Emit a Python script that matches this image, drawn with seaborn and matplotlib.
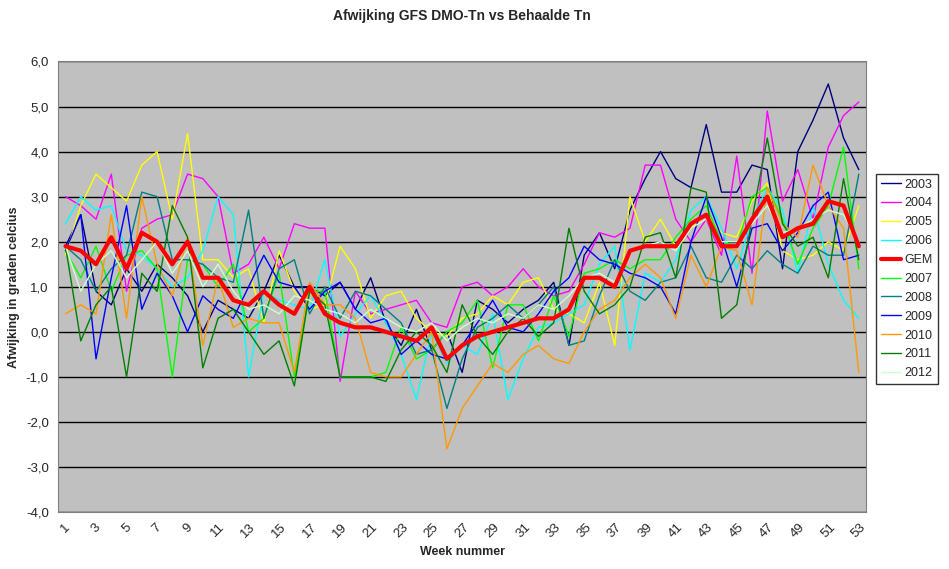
import matplotlib.pyplot as plt
import seaborn as sns
import pandas as pd
import numpy as np

weeks = list(range(1, 54))

y2003 = [1.9, 2.6, 0.9, 0.6, 1.4, 0.9, 1.5, 1.2, 0.8, 0.0, 0.7, 0.5, 0.3, 0.9, 1.7, 1.0, 1.0, 0.8, 1.1, 0.5, 1.2, 0.2, -0.3, 0.5, -0.4, 0.0, -0.9, 0.7, 0.5, 0.2, 0.5, 0.7, 1.1, -0.3, 1.7, 2.2, 1.4, 2.7, 3.4, 4.0, 3.4, 3.2, 4.6, 3.1, 3.1, 3.7, 3.6, 1.4, 4.0, 4.7, 5.5, 4.3, 3.6]
y2004 = [3.0, 2.8, 2.5, 3.5, 0.9, 2.3, 2.5, 2.6, 3.5, 3.4, 3.0, 1.3, 1.5, 2.1, 1.4, 2.4, 2.3, 2.3, -1.1, 0.9, 0.4, 0.5, 0.6, 0.7, 0.2, 0.1, 1.0, 1.1, 0.8, 1.0, 1.4, 1.0, 0.8, 0.9, 1.5, 2.2, 2.1, 2.3, 3.7, 3.7, 2.5, 2.0, 2.5, 1.7, 3.9, 1.3, 4.9, 2.9, 3.6, 2.5, 4.1, 4.8, 5.1]
y2005 = [1.7, 2.8, 3.5, 3.2, 2.9, 3.7, 4.0, 2.5, 4.4, 1.6, 1.6, 1.2, 1.4, 0.2, 1.8, 0.9, 0.5, 0.6, 1.9, 1.4, 0.3, 0.8, 0.9, 0.3, 0.0, -0.1, 0.3, 0.4, 0.8, 0.6, 1.1, 1.2, 0.5, 0.4, 0.2, 1.1, -0.3, 3.0, 2.0, 2.5, 1.9, 2.3, 2.6, 2.2, 2.1, 2.9, 3.3, 1.8, 1.6, 1.7, 2.0, 1.8, 2.8]
y2006 = [2.4, 3.0, 2.7, 2.8, 1.8, 1.7, 1.4, 1.0, 1.2, 1.8, 3.0, 2.6, -1.0, 0.9, 0.7, 0.6, 0.5, 1.6, -0.1, 0.4, 0.8, 0.2, -0.5, -1.5, 0.0, -0.7, -0.3, -0.5, 0.4, -1.5, -0.6, 0.1, 0.2, 0.4, 0.6, 1.5, 1.9, -0.4, 1.3, 1.1, 1.6, 2.7, 3.0, 2.3, 1.4, 2.5, 3.2, 2.7, 1.3, 2.8, 1.5, 0.7, 0.3]
gem = [1.9, 1.8, 1.5, 2.1, 1.4, 2.2, 2.0, 1.5, 2.0, 1.2, 1.2, 0.7, 0.6, 0.9, 0.6, 0.4, 1.0, 0.4, 0.2, 0.1, 0.1, 0.0, -0.1, -0.2, 0.1, -0.6, -0.3, -0.1, 0.0, 0.1, 0.2, 0.3, 0.3, 0.5, 1.2, 1.2, 1.0, 1.8, 1.9, 1.9, 1.9, 2.4, 2.6, 1.9, 1.9, 2.5, 3.0, 2.1, 2.3, 2.4, 2.9, 2.8, 1.9]
y2007 = [1.8, 1.2, 1.9, 0.9, 1.7, 1.8, 1.4, -1.0, 1.6, 1.5, 1.0, 1.5, 0.0, 0.3, 1.3, -1.0, 0.9, 0.9, -1.0, -1.0, -1.0, -0.9, 0.1, -0.6, -0.4, 0.0, 0.2, 0.7, -0.8, 0.6, 0.6, -0.2, 0.8, -0.1, 1.3, 1.4, 1.6, 1.4, 1.6, 1.6, 2.1, 2.5, 2.8, 2.0, 1.9, 3.0, 3.2, 2.5, 1.5, 2.3, 2.8, 4.1, 1.4]
y2008 = [1.9, 1.6, 0.9, 1.4, 1.7, 3.1, 3.0, 1.6, 1.6, 1.5, 1.2, 1.1, 2.7, 0.3, 1.4, 1.6, 0.4, 1.0, 0.3, 0.9, 0.8, 0.5, 0.2, -0.5, -0.4, -1.7, -0.6, 0.1, 0.3, 0.6, 0.3, 0.6, 1.0, -0.3, -0.2, 0.8, 1.6, 0.9, 0.7, 1.1, 1.2, 1.9, 1.2, 1.1, 1.7, 1.4, 1.8, 1.5, 1.3, 1.9, 1.7, 1.7, 3.5]
y2009 = [1.8, 2.6, -0.6, 1.2, 2.8, 0.5, 1.3, 0.8, 0.0, 0.8, 0.5, 0.3, 1.0, 1.7, 1.1, 1.0, 0.5, 0.9, 1.1, 0.5, 0.2, 0.3, -0.5, -0.2, -0.5, -0.6, -0.3, 0.2, 0.7, 0.1, 0.0, 0.4, 0.9, 1.2, 1.9, 1.6, 1.5, 1.3, 1.2, 1.0, 0.4, 2.0, 3.0, 2.1, 1.0, 2.3, 2.4, 1.8, 2.2, 2.8, 3.1, 1.6, 1.7]
y2010 = [0.4, 0.6, 0.4, 2.6, 0.3, 3.0, 1.5, 0.8, 2.1, -0.3, 1.2, 0.1, 0.3, 0.2, 0.2, -0.9, 1.1, 0.6, 0.6, 0.3, -0.9, -1.0, -1.0, -0.5, 0.0, -2.6, -1.7, -1.2, -0.7, -0.9, -0.5, -0.3, -0.6, -0.7, 0.0, 0.5, 0.7, 1.2, 1.5, 1.2, 0.3, 1.7, 1.0, 1.9, 1.8, 0.6, 3.2, 2.4, 2.1, 3.7, 2.8, 2.3, -0.9]
y2011 = [1.9, -0.2, 0.6, 1.0, -1.0, 1.3, 0.9, 2.8, 2.1, -0.8, 0.3, 0.5, 0.0, -0.5, -0.2, -1.2, 0.9, 0.6, -1.0, -1.0, -1.0, -1.1, -0.4, 0.0, -0.3, -0.9, 0.6, -0.1, -0.5, 0.0, 0.3, -0.1, 0.2, 2.3, 0.9, 0.4, 0.6, 1.0, 2.1, 2.2, 1.2, 3.2, 3.1, 0.3, 0.6, 2.5, 4.3, 2.4, 1.9, 2.1, 1.2, 3.4, 1.6]
y2012 = [1.9, 0.9, 1.5, 1.8, 1.2, 1.6, 2.0, 1.3, 1.8, 1.0, 1.5, 0.9, 0.5, 0.6, 0.4, 0.8, 0.7, 0.5, 0.4, 0.2, 0.5, 0.3, 0.1, 0.0, 0.2, -0.2, 0.1, 0.3, 0.2, 0.4, 0.3, 0.6, 0.5, 0.8, 1.2, 1.3, 1.1, 1.8, 1.9, 2.0, 1.8, 2.3, 2.5, 2.0, 2.0, 2.4, 2.8, 2.2, 2.3, 2.5, 2.7, 2.6, 2.0]

names = ['2003', '2004', '2005', '2006', 'GEM', '2007', '2008', '2009', '2010', '2011', '2012']
values = [y2003, y2004, y2005, y2006, gem, y2007, y2008, y2009, y2010, y2011, y2012]
colors = ['#000080', '#ff00ff', '#ffff00', '#00ffff', '#ff0000', '#00ff00',
          '#008080', '#0000ff', '#ff9900', '#008000', '#ccffcc']

rows = []
for n, v in zip(names, values):
    for w, y in zip(weeks, v):
        rows.append({'week': w, 'jaar': n, 'waarde': y})
df = pd.DataFrame(rows)

sns.set_style('white')
plt.rcParams['font.family'] = ['Liberation Sans', 'DejaVu Sans']

fig = plt.figure(figsize=(9.49, 5.69), dpi=100)
ax = fig.add_axes([0.061, 0.1, 0.852, 0.792])
ax.set_facecolor('#c0c0c0')

sns.lineplot(data=df, x='week', y='waarde', hue='jaar', hue_order=names,
             palette=dict(zip(names, colors)), ax=ax, linewidth=1, legend=False)
for line, n in zip(ax.lines, names):
    if n == 'GEM':
        line.set_linewidth(3)
        line.set_zorder(5)

ax.set_xlim(0.5, 53.5)
ax.set_ylim(-4, 6)
ax.set_yticks(np.arange(-4, 6.1, 1))
ax.set_yticklabels([f'{t:.1f}'.replace('.', ',') for t in np.arange(-4, 6.1, 1)], fontsize=9.5)
ax.set_xticks(range(1, 54, 2))
ax.set_xticklabels([str(w) for w in range(1, 54, 2)], rotation=45, fontsize=9.5)
ax.grid(axis='y', color='black', linewidth=1)
ax.set_axisbelow(True)
for s in ax.spines.values():
    s.set_color('#808080')
ax.tick_params(length=3)

ax.set_title('Afwijking GFS DMO-Tn vs Behaalde Tn', fontsize=10, fontweight='bold', pad=30)
ax.set_xlabel('Week nummer', fontsize=9, fontweight='bold')
ax.set_ylabel('Afwijking in graden celcius', fontsize=9, fontweight='bold')

handles = [plt.Line2D([], [], color=c, linewidth=3 if n == 'GEM' else 1) for n, c in zip(names, colors)]
leg = fig.legend(handles, names, loc='upper left', bbox_to_anchor=(0.923, 0.695),
                 fontsize=9, frameon=True, fancybox=False, edgecolor='black',
                 handlelength=1.6, handletextpad=0.3, labelspacing=0.55,
                 borderpad=0.4, borderaxespad=0)

fig.savefig('out.png', dpi=100)
